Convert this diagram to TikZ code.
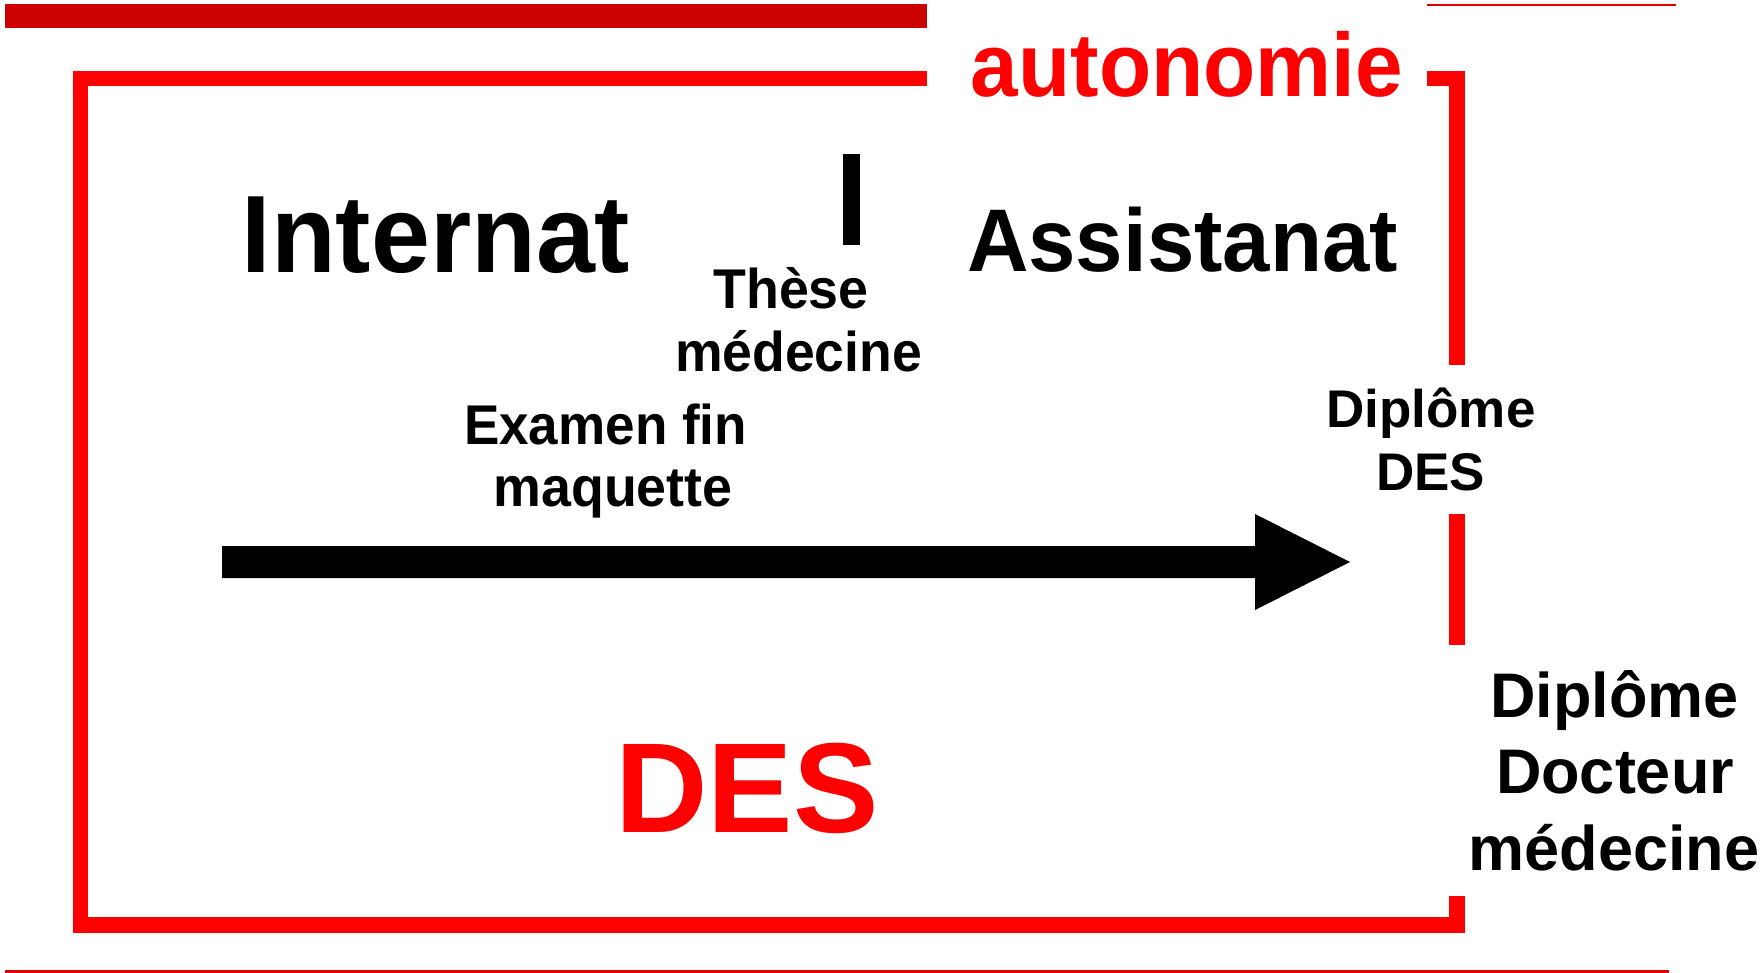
\documentclass[tikz,border=0pt]{standalone}
\usepackage{graphicx}
\usepackage{fontspec}
\setmainfont{Liberation Sans}
\definecolor{framered}{RGB}{255,0,0}
\definecolor{barred}{RGB}{204,0,0}
\definecolor{thinred}{RGB}{225,0,0}
\newcommand{\cond}[2]{\scalebox{#1}[1]{#2}}
\begin{document}
\begin{tikzpicture}[x=1pt,y=-1pt,
  lbl/.style={anchor=base, inner sep=0pt, outer sep=0pt, align=center},
  fnt/.style={font=\fontsize{#1}{#1}\selectfont\bfseries},
  framepart/.style={fill=framered},
]
\useasboundingbox[fill=white] (0,0) rectangle (1760,973);
% top decorative bars
\fill[barred] (4.5,4.5) rectangle (927,28);
\fill[thinred] (1427,4) rectangle (1676,6.5);
\fill[thinred] (4.5,970) rectangle (1669,972.5);
% frame
\fill[framepart] (73,71) rectangle (88,933);
\fill[framepart] (73,71) rectangle (927,86);
\fill[framepart] (1427,71) rectangle (1465,86);
\fill[framepart] (1449,71) rectangle (1465,365);
\fill[framepart] (1449,514) rectangle (1465,645);
\fill[framepart] (1449,896) rectangle (1465,933);
\fill[framepart] (73,917) rectangle (1465,933);
% these bar
\fill[black] (843,154) rectangle (860,245);
% main arrow
\coordinate (arrS) at (222,562);
\coordinate (arrT) at (1350,562);
\fill[black] (222,546) -- (1255,546) -- (1255,514) -- (arrT) -- (1255,610) -- (1255,578) -- (222,578) -- cycle;
% texts
\node[lbl,fnt=90,text=framered] (auto) at (1187,97) {\cond{0.95}{autonomie}};
\node[lbl,fnt=110] (intern) at (436,272.5) {\cond{0.963}{Internat}};
\node[lbl,fnt=89] (assist) at (1182.5,271.5) {\cond{0.957}{Assistanat}};
\node[lbl,fnt=56] (these1) at (791,308.5) {\cond{0.96}{Thèse}};
\node[lbl,fnt=56] (these2) at (798.5,371.5) {\cond{0.956}{médecine}};
\node[lbl,fnt=56] (exam1) at (605.5,444.5) {\cond{0.947}{Examen fin}};
\node[lbl,fnt=56] (exam2) at (613,506) {\cond{0.96}{maquette}};
\node[lbl,fnt=53] (ddes1) at (1431,427.5) {Diplôme};
\node[lbl,fnt=53] (ddes2) at (1430.5,490.5) {DES};
\node[lbl,fnt=63] (ddoc1) at (1614.5,717) {Diplôme};
\node[lbl,fnt=63] (ddoc2) at (1615,793.5) {Docteur};
\node[lbl,fnt=63] (ddoc3) at (1614,870) {médecine};
\node[lbl,fnt=128,text=framered] (des) at (747,832) {DES};
\end{tikzpicture}
\end{document}
